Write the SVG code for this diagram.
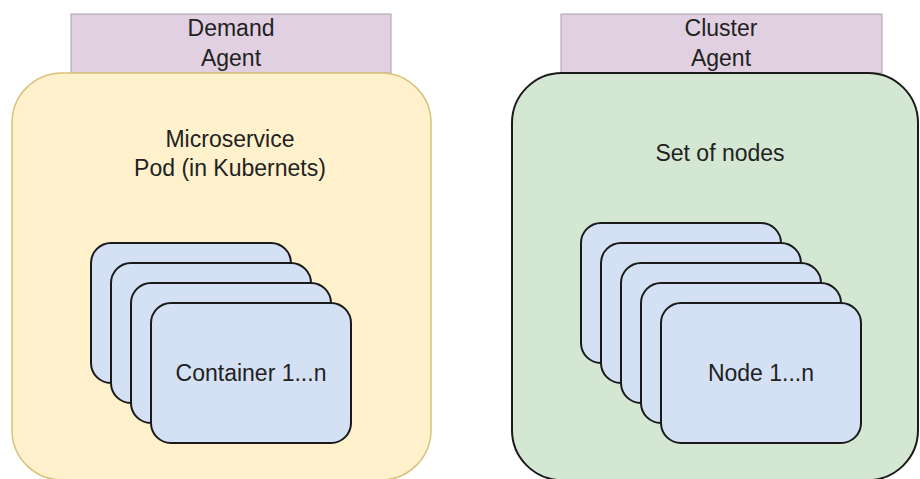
<svg xmlns="http://www.w3.org/2000/svg" width="920" height="479" viewBox="0 0 920 479">
<style>
text{font-family:"Liberation Sans",Arial,sans-serif;font-size:23px;fill:#222;text-anchor:middle}
.agent{fill:#e1d0e1;stroke:#aaa0aa;stroke-width:1}
.card{fill:#d4e1f5;stroke:#1a1a1a;stroke-width:2}
</style>
<rect width="920" height="479" fill="#fff"/>
<g id="demand-agent">
<rect class="agent" x="71" y="14" width="320" height="59"/>
<text x="231" y="36">Demand</text>
<text x="231" y="66">Agent</text>
</g>
<g id="pod">
<rect x="12" y="73" width="419" height="407" rx="50" ry="50" fill="#fff1cc" stroke="#d9c27a" stroke-width="1.5"/>
<text x="230" y="147">Microservice</text>
<text x="230" y="176">Pod (in Kubernets)</text>
</g>
<g id="containers">
<rect class="card" x="91" y="243" width="200" height="140" rx="20" ry="20"/>
<rect class="card" x="111" y="263" width="200" height="140" rx="20" ry="20"/>
<rect class="card" x="131" y="283" width="200" height="140" rx="20" ry="20"/>
<rect class="card" x="151" y="303" width="200" height="140" rx="20" ry="20"/>
<text x="251" y="381">Container 1...n</text>
</g>
<g id="cluster-agent">
<rect class="agent" x="561" y="14" width="321" height="59"/>
<text x="721" y="36">Cluster</text>
<text x="721" y="66">Agent</text>
</g>
<g id="cluster">
<rect x="512" y="73" width="406" height="407" rx="50" ry="50" fill="#d4e7d3" stroke="#1a1a1a" stroke-width="2"/>
<text x="720" y="161">Set of nodes</text>
</g>
<g id="nodes">
<rect class="card" x="581" y="223" width="200" height="140" rx="20" ry="20"/>
<rect class="card" x="601" y="243" width="200" height="140" rx="20" ry="20"/>
<rect class="card" x="621" y="263" width="200" height="140" rx="20" ry="20"/>
<rect class="card" x="641" y="283" width="200" height="140" rx="20" ry="20"/>
<rect class="card" x="661" y="303" width="200" height="140" rx="20" ry="20"/>
<text x="761" y="381">Node 1...n</text>
</g>
<g id="connectors"></g>
</svg>
